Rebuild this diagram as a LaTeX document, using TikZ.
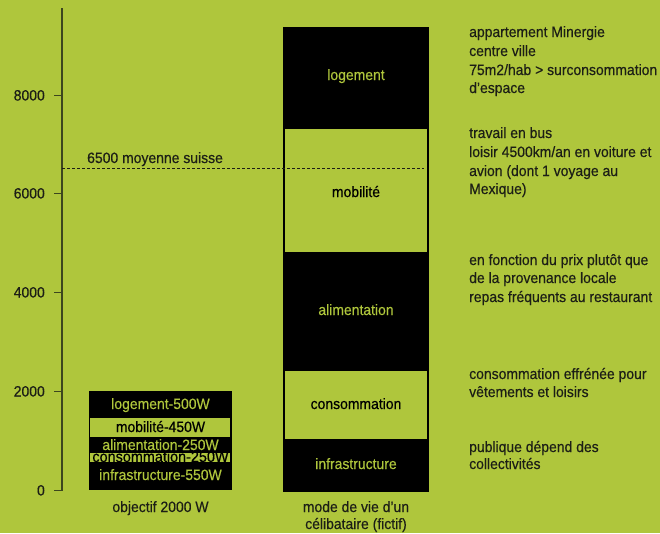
\documentclass[tikz,border=0pt]{standalone}
\usepackage{fontspec}
\setmainfont[FakeStretch=0.93,FakeBold=0.4]{Liberation Sans}
\definecolor{bg}{RGB}{175,198,60}
\definecolor{ink}{RGB}{28,30,22}
\definecolor{axiscol}{RGB}{60,70,30}
\begin{document}
\begin{tikzpicture}[x=1pt,y=-1pt,
  every node/.style={inner sep=0pt, font=\fontsize{15}{18}\selectfont},
  note/.style={anchor=base west, text=ink},
  ylab/.style={anchor=base east, text=ink},
  onblack/.style={anchor=base, text=bg},
  ongreen/.style={anchor=base, text=black},
  capt/.style={anchor=base, text=ink},
  tickmark/.style={draw=axiscol, line width=1.2pt}
]
\fill[bg] (0,0) rectangle (660,533);
\useasboundingbox (0,0) rectangle (660,533);

% axis
\coordinate (axtop) at (62,8);
\coordinate (axbot) at (62,491);
\draw[axiscol, line width=1.3pt] (axtop) -- (axbot);
\foreach \v/\y in {0/490.5, 2000/391.5, 4000/292.5, 6000/193.5, 8000/95.5}{
  \coordinate (t\v) at (62,\y);
  \draw[tickmark] (t\v) -- ++(-8,0);
  \node[ylab] (l\v) at (45,\y+5) {\v};
}

% left bar
\fill[black] (89,391) rectangle (232,490);
\fill[bg] (90,418) rectangle (230,437);
\fill[bg] (90,453) rectangle (230,461.5);
\node[onblack] (lloge) at (160.5,409) {logement-500W};
\node[ongreen] (lmob) at (160.5,432) {mobilité-450W};
\node[onblack] (lalim) at (160.5,450) {alimentation-250W};
\begin{scope}
  \clip (90,453) rectangle (230,461.5);
  \node[ongreen, font=\fontsize{15.5}{18}\selectfont] (lcons) at (160.5,462) {consommation-250W};
\end{scope}
\node[onblack] (linfra) at (160.5,480) {infrastructure-550W};
\node[capt] (cap1) at (160.5,512) {objectif 2000 W};

% right bar
\fill[black] (283,27) rectangle (429,492);
\fill[bg] (285.3,129.3) rectangle (427,252.3);
\fill[bg] (285.3,370.5) rectangle (427,439);
\node[onblack] (rloge) at (356,80) {logement};
\node[ongreen] (rmob) at (356,197) {mobilité};
\node[onblack] (ralim) at (356,315) {alimentation};
\node[ongreen] (rcons) at (356,409) {consommation};
\node[onblack] (rinfra) at (356,469) {infrastructure};
\node[capt] (cap2a) at (356,512) {mode de vie d’un};
\node[capt] (cap2b) at (356,529) {célibataire (fictif)};

% average line
\coordinate (d1) at (62,168);
\coordinate (d2) at (424,168);
\draw[ink, dash pattern=on 3pt off 2pt, line width=0.8pt] (d1) -- (d2);
\node[note] (avg) at (87,163) {6500 moyenne suisse};

% annotations
\node[note] (a1) at (469,37) {appartement Minergie};
\node[note] (a2) at (469,56) {centre ville};
\node[note] (a3) at (469,75) {75m2/hab > surconsommation};
\node[note] (a4) at (469,93) {d’espace};
\node[note] (b1) at (469,138) {travail en bus};
\node[note] (b2) at (469,157) {loisir 4500km/an en voiture et};
\node[note] (b3) at (469,176) {avion (dont 1 voyage au};
\node[note] (b4) at (469,194) {Mexique)};
\node[note] (c1) at (469,265) {en fonction du prix plutôt que};
\node[note] (c2) at (469,283) {de la provenance locale};
\node[note] (c3) at (469,302) {repas fréquents au restaurant};
\node[note] (e1) at (469,379) {consommation effrénée pour};
\node[note] (e2) at (469,397) {vêtements et loisirs};
\node[note] (f1) at (469,452) {publique dépend des};
\node[note] (f2) at (469,469) {collectivités};
\end{tikzpicture}
\end{document}
